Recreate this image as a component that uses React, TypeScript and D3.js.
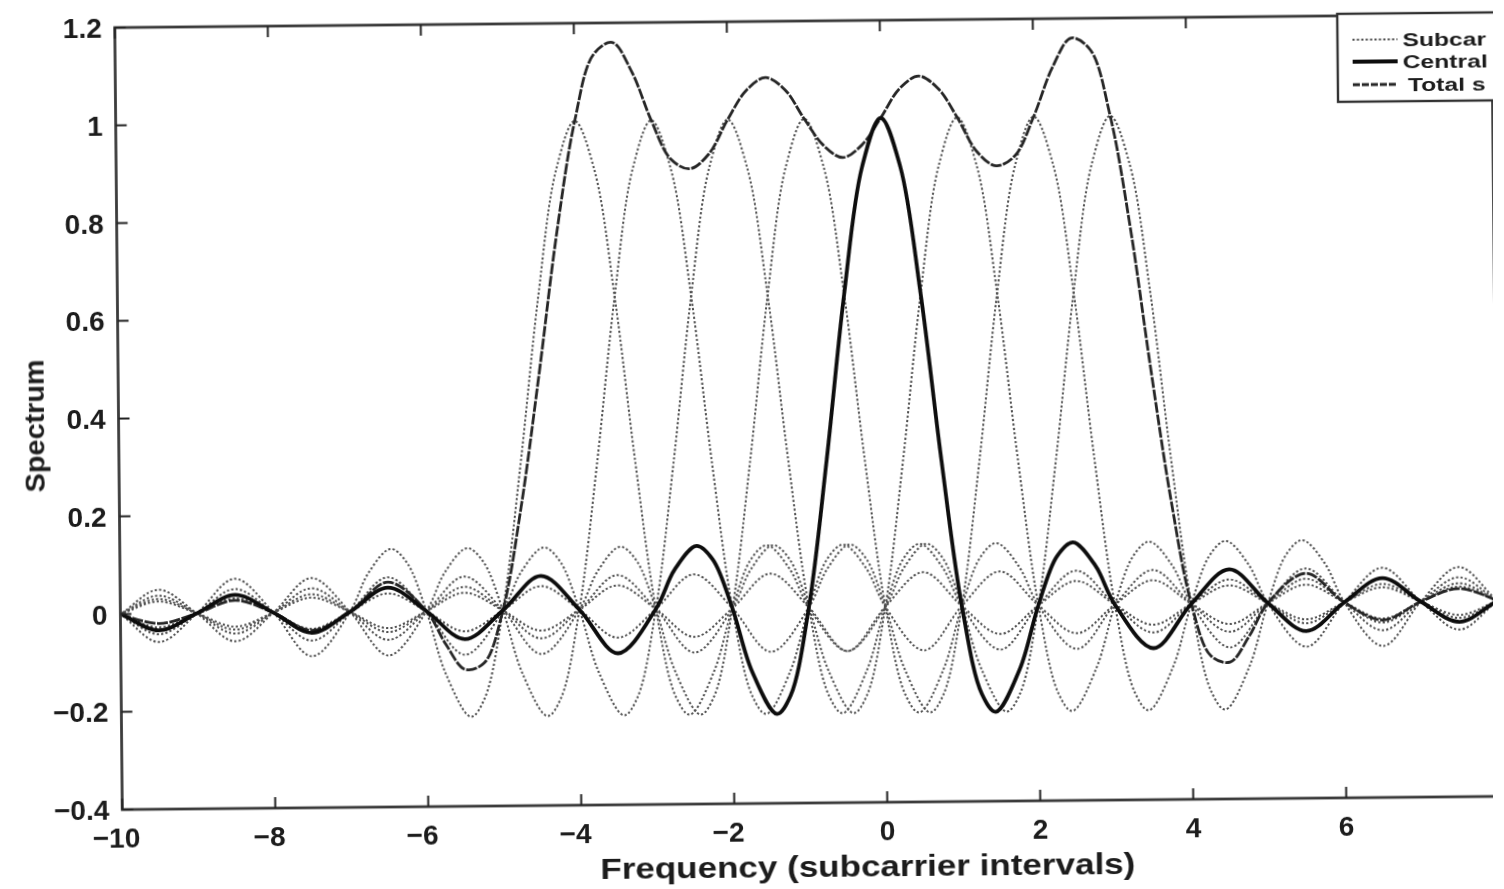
import React from "react";
import * as d3 from "d3";

// subcarrier centres, in subcarrier intervals
const centers = [-4, -3, -2, -1, 0, 1, 2, 3];
const centralCarrier = 0;

// one side of a single subcarrier spectrum (offset from its centre)
const lobeOffset = [0, 0.25, 0.5, 0.75, 1, 1.25, 1.43, 1.75, 2, 2.25, 2.46, 2.75, 3, 3.5, 4, 4.5, 5, 5.5, 6, 6.5, 7, 7.5, 8, 8.5, 9, 9.5, 10, 10.5, 11, 11.5, 12, 12.5, 13, 13.5, 14];
const lobeValue = [1, 0.9, 0.64, 0.3, 0, -0.18, -0.217, -0.13, 0, 0.1, 0.128, 0.08, 0, -0.09, 0, 0.07, 0, -0.058, 0, 0.049, 0, -0.042, 0, 0.037, 0, -0.034, 0, 0.03, 0, -0.028, 0, 0.025, 0, -0.024, 0];

// total spectrum (sum of all subcarriers)
const totalFreq = [-10, -9.5, -9, -8.5, -8, -7.5, -7, -6.5, -6, -5.75, -5.5, -5.25, -5, -4.75, -4.5, -4.25, -4, -3.75, -3.5, -3.25, -3, -2.75, -2.5, -2.25, -2, -1.75, -1.5, -1.25, -1, -0.75, -0.5, -0.25, 0, 0.25, 0.5, 0.75, 1, 1.25, 1.5, 1.75, 2, 2.25, 2.5, 2.75, 3, 3.25, 3.5, 3.75, 4, 4.25, 4.5, 4.75, 5, 5.5, 6, 6.5, 7, 7.5, 8];
const totalValue = [0, -0.02, 0, 0.026, 0, -0.037, 0, 0.06, 0, -0.068, -0.12, -0.107, 0, 0.21, 0.48, 0.77, 1.0, 1.135, 1.16, 1.1, 1.0, 0.92, 0.9, 0.93, 1.0, 1.06, 1.085, 1.06, 1.0, 0.945, 0.92, 0.945, 1.0, 1.06, 1.085, 1.06, 1.0, 0.93, 0.9, 0.92, 1.0, 1.1, 1.16, 1.135, 1.0, 0.77, 0.48, 0.21, 0, -0.107, -0.12, -0.068, 0, 0.06, 0, -0.037, 0, 0.026, 0];

const xTicks = [-10, -8, -6, -4, -2, 0, 2, 4, 6];
const yTicks = [-0.4, -0.2, 0, 0.2, 0.4, 0.6, 0.8, 1, 1.2];
// legend entries as far as they show before the figure edge
const legendLabels = ["Subcar", "Central", "Total s"];

const FONT = "'Liberation Sans', Arial, Helvetica, sans-serif";
const fmt = (t: number) => (t < 0 ? "\u2212" : "") + String(Math.abs(+t.toFixed(1)));

function carrierPoints(c: number): [number, number][] {
  const left: [number, number][] = [];
  for (let i = lobeOffset.length - 1; i > 0; i--) left.push([c - lobeOffset[i], lobeValue[i]]);
  const right: [number, number][] = lobeOffset.map((o, i) => [c + o, lobeValue[i]]);
  return left.concat(right);
}

export default function App() {
  const W = 1504, H = 889;
  const m = { left: 118.5, right: 1495.5, top: 21, bottom: 803 };
  const x = d3.scaleLinear().domain([-10, 8]).range([m.left, m.right]);
  const y = d3.scaleLinear().domain([-0.4, 1.2]).range([m.bottom, m.top]);
  const line = d3
    .line<[number, number]>()
    .x((d) => x(d[0]))
    .y((d) => y(d[1]))
    .curve(d3.curveCatmullRom.alpha(0.5));

  const totalPts: [number, number][] = totalFreq.map((f, i) => [f, totalValue[i]]);

  const sub = { stroke: "#505050", width: 2, dash: "2.2 2.2" };
  const central = { stroke: "#0d0d0d", width: 3.8 };
  const total = { stroke: "#262626", width: 2.8, dash: "11 1.6" };

  const lg = { x: 1341, top: 19, bottom: 107, rows: [45, 67, 90] };

  return (
    <svg
      width={W}
      height={H}
      style={{ position: "absolute", left: 0, top: 0, background: "#fff" }}
    >
      <defs>
        <clipPath id="cut">
          <rect x={0} y={0} width={1493} height={H} />
        </clipPath>
        <clipPath id="plot">
          <rect x={m.left} y={m.top} width={m.right - m.left} height={m.bottom - m.top} />
        </clipPath>
        <filter id="soft" x="-5%" y="-5%" width="110%" height="110%">
          <feGaussianBlur stdDeviation="0.6" />
        </filter>
      </defs>
      <rect x={0} y={0} width={W} height={H} fill="#fff" />
      <g clipPath="url(#cut)">
        <g transform="rotate(-0.55 806 412)" filter="url(#soft)">
          {/* curves */}
          <g clipPath="url(#plot)" fill="none">
            {centers
              .filter((c) => c !== centralCarrier)
              .map((c) => (
                <path
                  key={c}
                  d={line(carrierPoints(c)) || ""}
                  stroke={sub.stroke}
                  strokeWidth={sub.width}
                  strokeDasharray={sub.dash}
                />
              ))}
            <path
              d={line(totalPts) || ""}
              stroke={total.stroke}
              strokeWidth={total.width}
              strokeDasharray={total.dash}
            />
            <path
              d={line(carrierPoints(centralCarrier)) || ""}
              stroke={central.stroke}
              strokeWidth={central.width}
            />
          </g>

          {/* axes box */}
          <rect
            x={m.left}
            y={m.top}
            width={m.right - m.left}
            height={m.bottom - m.top}
            fill="none"
            stroke="#3a3a3a"
            strokeWidth={2.8}
          />
          {xTicks.map((t) => (
            <g key={"x" + t}>
              <line x1={x(t)} x2={x(t)} y1={m.bottom} y2={m.bottom - 11} stroke="#222" strokeWidth={2} />
              <line x1={x(t)} x2={x(t)} y1={m.top} y2={m.top + 11} stroke="#222" strokeWidth={2} />
              <text
                x={x(t) + (t < 0 ? -6 : 0)}
                y={m.bottom + 38}
                textAnchor="middle"
                fontFamily={FONT}
                fontWeight="bold"
                fontSize={28}
                fill="#1a1a1a"
              >
                {fmt(t)}
              </text>
            </g>
          ))}
          {yTicks.map((t) => (
            <g key={"y" + t}>
              <line x1={m.left} x2={m.left + 11} y1={y(t)} y2={y(t)} stroke="#222" strokeWidth={2} />
              <text
                x={m.left - 13}
                y={y(t) + 10}
                textAnchor="end"
                fontFamily={FONT}
                fontWeight="bold"
                fontSize={28}
                fill="#1a1a1a"
              >
                {fmt(t)}
              </text>
            </g>
          ))}

          {/* axis titles */}
          <text
            x={863.5}
            y={876.5}
            textAnchor="middle"
            fontFamily={FONT}
            fontWeight="bold"
            fontSize={30}
            textLength={535}
            lengthAdjust="spacingAndGlyphs"
            fill="#1a1a1a"
          >
            Frequency (subcarrier intervals)
          </text>
          <text
            transform="translate(44 418.5) rotate(-90)"
            textAnchor="middle"
            fontFamily={FONT}
            fontWeight="bold"
            fontSize={28}
            textLength={133}
            lengthAdjust="spacingAndGlyphs"
            fill="#1a1a1a"
          >
            Spectrum
          </text>

          {/* legend */}
          <rect
            x={lg.x}
            y={lg.top}
            width={200}
            height={lg.bottom - lg.top}
            fill="#fff"
            stroke="#333"
            strokeWidth={2.4}
          />
          {legendLabels.map((lab, i) => {
            const yy = lg.rows[i];
            const style =
              i === 0
                ? { stroke: sub.stroke, w: sub.width, dash: sub.dash }
                : i === 1
                ? { stroke: central.stroke, w: central.width, dash: undefined }
                : { stroke: total.stroke, w: total.width, dash: "7 2" };
            return (
              <g key={lab}>
                <line
                  x1={1356}
                  x2={1401}
                  y1={yy}
                  y2={yy}
                  stroke={style.stroke}
                  strokeWidth={style.w}
                  strokeDasharray={style.dash}
                />
                <text
                  transform={`translate(${i === 2 ? 1411 : 1406} ${yy + 7}) scale(1.3 1)`}
                  fontFamily={FONT}
                  fontWeight="bold"
                  fontSize={19}
                  fill="#1a1a1a"
                >
                  {lab}
                </text>
              </g>
            );
          })}
        </g>
      </g>
    </svg>
  );
}
